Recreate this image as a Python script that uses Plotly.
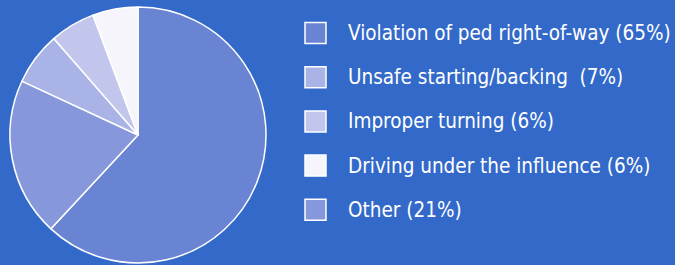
import plotly.graph_objects as go

# ---- data ----
labels = [
    "Violation of ped right-of-way",
    "Unsafe starting/backing",
    "Improper turning",
    "Driving under the influence",
    "Other",
]
values = [65, 7, 6, 6, 21]
legend_text = [
    "Violation of ped right-of-way (65%)",
    "Unsafe starting/backing\u00a0 (7%)",
    "Improper turning (6%)",
    "Driving under the influence (6%)",
    "Other (21%)",
]
colors = ["#6A84D4", "#AAB3E6", "#C2C6EC", "#F6F5FC", "#8698DB"]
pie_order = [0, 4, 1, 2, 3]  # order of slices clockwise from 12 o'clock

W, H = 675, 265
BG = "#3369C9"
FONT = "DejaVu Sans Condensed, sans-serif"

fig = go.Figure()
fig.add_trace(go.Pie(
    labels=[labels[i] for i in pie_order],
    values=[values[i] for i in pie_order],
    marker=dict(colors=[colors[i] for i in pie_order], line=dict(color="white", width=1.5)),
    sort=False,
    direction="clockwise",
    rotation=0,
    textinfo="none",
    hoverinfo="label+value",
    showlegend=False,
    domain=dict(x=[10 / W, 266 / W], y=[2 / H, 258 / H]),
))

# custom legend (large square swatches)
shapes, annotations = [], []
top_c, step, sq = 33, 44.2, 21
for k, (txt, col) in enumerate(zip(legend_text, colors)):
    cy = top_c + k * step
    shapes.append(dict(
        type="rect", xref="paper", yref="paper",
        x0=305 / W, x1=(305 + sq) / W,
        y0=1 - (cy + sq / 2) / H, y1=1 - (cy - sq / 2) / H,
        fillcolor=col, line=dict(color="white", width=1.5), layer="above",
    ))
    annotations.append(dict(
        xref="paper", yref="paper", x=346 / W, y=1 - cy / H,
        xanchor="left", yanchor="middle", showarrow=False,
        text=txt, font=dict(family=FONT, size=20.5, color="white"),
    ))

fig.update_layout(
    width=W, height=H,
    margin=dict(l=0, r=0, t=0, b=0),
    paper_bgcolor=BG, plot_bgcolor=BG,
    shapes=shapes, annotations=annotations,
    showlegend=False,
)

fig.write_html("out.html", config={"displayModeBar": False},
               post_script="document.body.style.margin='0';")
